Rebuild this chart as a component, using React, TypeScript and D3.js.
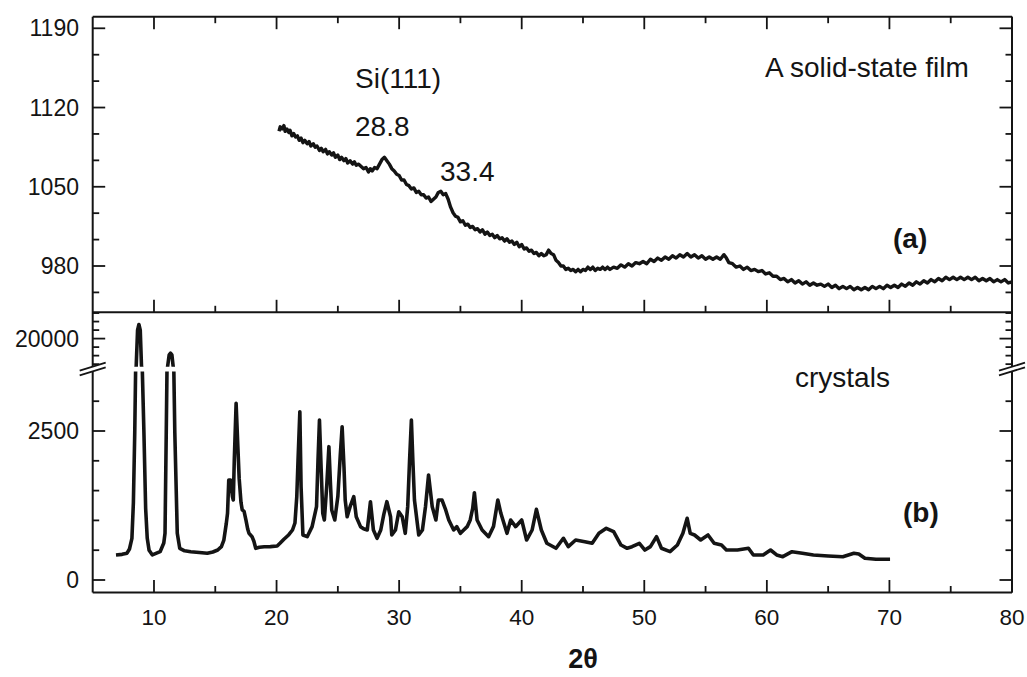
import React from "react";
import * as d3 from "d3";

// XRD pattern of the solid-state film (2θ, counts)
const filmPattern: [number, number][] = [
  [20.2, 1099], [20.3, 1103], [20.45, 1101], [20.6, 1104], [20.7, 1099], [20.85, 1101], [21.0, 1098],
  [21.1, 1100], [21.25, 1095], [21.4, 1097], [21.55, 1094], [21.7, 1095], [21.85, 1091],
  [22.0, 1093], [22.15, 1089], [22.3, 1091], [22.5, 1088], [22.65, 1090], [22.8, 1086],
  [23.0, 1088], [23.15, 1085], [23.3, 1086], [23.5, 1082], [23.65, 1084], [23.8, 1081],
  [24.0, 1083], [24.15, 1079], [24.3, 1081], [24.5, 1078], [24.65, 1080], [24.8, 1076],
  [25.0, 1078], [25.15, 1074], [25.3, 1076], [25.5, 1073], [25.65, 1075], [25.8, 1071],
  [26.0, 1073], [26.2, 1070], [26.35, 1072], [26.5, 1069], [26.7, 1070], [26.9, 1068],
  [27.1, 1066], [27.3, 1067], [27.5, 1063], [27.65, 1066], [27.8, 1064], [28.0, 1067],
  [28.2, 1066], [28.4, 1070], [28.6, 1074], [28.8, 1076], [29.0, 1073], [29.2, 1070],
  [29.4, 1066], [29.6, 1064], [29.8, 1061], [30.0, 1060], [30.2, 1056], [30.4, 1056],
  [30.6, 1052], [30.8, 1051], [31.0, 1048], [31.2, 1049], [31.4, 1045], [31.6, 1046],
  [31.8, 1043], [32.0, 1043], [32.2, 1040], [32.4, 1041], [32.6, 1037], [32.8, 1039],
  [33.0, 1041], [33.2, 1045], [33.4, 1046], [33.6, 1043], [33.8, 1044], [34.0, 1039],
  [34.2, 1032], [34.4, 1027], [34.6, 1024], [34.8, 1023], [35.0, 1019], [35.2, 1020],
  [35.4, 1016], [35.6, 1017], [35.8, 1014], [36.0, 1015], [36.2, 1012], [36.4, 1013],
  [36.6, 1010], [36.8, 1012], [37.0, 1008], [37.2, 1010], [37.4, 1007], [37.6, 1008],
  [37.8, 1005], [38.0, 1007], [38.2, 1004], [38.4, 1005], [38.6, 1002], [38.8, 1004],
  [39.0, 1001], [39.2, 1002], [39.4, 999], [39.6, 1001], [39.8, 997], [40.0, 999],
  [40.2, 995], [40.4, 996], [40.6, 993], [40.8, 994], [41.0, 991], [41.2, 992],
  [41.4, 989], [41.6, 991], [41.8, 989], [42.0, 990], [42.2, 994], [42.4, 991],
  [42.6, 990], [42.8, 985], [43.0, 983], [43.2, 980], [43.4, 980], [43.6, 977],
  [43.8, 978], [44.0, 976], [44.2, 977], [44.4, 975], [44.6, 977], [44.8, 975],
  [45.0, 977], [45.2, 976], [45.4, 979], [45.6, 977], [45.8, 979], [46.0, 976],
  [46.2, 978], [46.4, 977], [46.6, 979], [46.8, 977], [47.0, 979], [47.2, 977],
  [47.5, 979], [47.8, 978], [48.1, 981], [48.4, 979], [48.7, 982], [49.0, 980],
  [49.3, 983], [49.6, 982], [49.9, 984], [50.2, 982], [50.5, 986], [50.8, 984],
  [51.1, 987], [51.4, 985], [51.7, 988], [52.0, 986], [52.3, 989], [52.6, 987],
  [52.9, 990], [53.2, 988], [53.5, 991], [53.8, 988], [54.1, 990], [54.4, 987],
  [54.7, 989], [55.0, 986], [55.3, 988], [55.6, 986], [55.9, 988], [56.2, 986],
  [56.5, 990], [56.7, 987], [56.9, 983], [57.2, 982], [57.5, 979], [57.8, 980],
  [58.1, 977], [58.4, 979], [58.7, 976], [59.0, 977], [59.3, 975], [59.6, 976],
  [59.9, 973], [60.2, 974], [60.5, 971], [60.8, 971], [61.1, 968], [61.4, 969],
  [61.7, 966], [62.0, 968], [62.3, 965], [62.6, 967], [62.9, 964], [63.2, 966],
  [63.5, 963], [63.8, 965], [64.1, 963], [64.4, 964], [64.7, 962], [65.0, 964],
  [65.3, 961], [65.6, 963], [65.9, 960], [66.2, 962], [66.5, 960], [66.8, 962],
  [67.1, 959], [67.4, 961], [67.7, 959], [68.0, 961], [68.3, 959], [68.6, 962],
  [68.9, 960], [69.2, 962], [69.5, 960], [69.8, 963], [70.1, 961], [70.4, 963],
  [70.7, 961], [71.0, 964], [71.3, 962], [71.6, 965], [71.9, 963], [72.2, 966],
  [72.5, 964], [72.8, 967], [73.1, 965], [73.4, 968], [73.7, 966], [74.0, 969],
  [74.3, 967], [74.6, 970], [74.9, 968], [75.2, 970], [75.5, 968], [75.8, 970],
  [76.1, 968], [76.4, 970], [76.7, 968], [77.0, 970], [77.3, 967], [77.6, 969],
  [77.9, 967], [78.2, 969], [78.5, 966], [78.8, 968], [79.1, 966], [79.4, 968],
  [79.7, 965], [80.0, 966],
];

// XRD pattern of the crystals (2θ, counts)
const crystalPattern: [number, number][] = [
  [6.9, 420], [7.4, 430], [7.8, 450], [8.0, 520], [8.2, 700], [8.32, 1300], [8.43, 2466],
  [8.5, 3500], [8.55, 16800], [8.66, 21000], [8.77, 21650], [8.88, 21000], [8.98, 16800],
  [9.05, 3500], [9.18, 2466], [9.32, 1200], [9.45, 700], [9.6, 500], [9.87, 420],
  [10.5, 475], [10.8, 620], [10.9, 783], [11.0, 2466], [11.06, 3500], [11.12, 16800],
  [11.24, 18100], [11.35, 18300], [11.46, 18100], [11.56, 16800], [11.62, 3500],
  [11.7, 2466], [11.9, 783], [12.1, 532], [12.5, 490], [13.0, 475], [13.7, 460],
  [14.35, 448], [14.8, 470], [15.2, 503], [15.5, 560], [15.7, 671], [15.9, 950],
  [16.0, 1119], [16.1, 1678], [16.25, 1678], [16.4, 1400], [16.47, 1342], [16.55, 2000],
  [16.7, 2965], [16.85, 2200], [16.95, 1700], [17.1, 1300], [17.2, 1175], [17.35, 1150],
  [17.5, 1007], [17.65, 850], [17.75, 783], [18.0, 727], [18.15, 650], [18.3, 532],
  [18.6, 550], [19.0, 559], [19.5, 560], [20.05, 570], [20.3, 620], [20.6, 683],
  [21.0, 760], [21.3, 839], [21.5, 956], [21.65, 1400], [21.75, 2000], [21.9, 2824],
  [22.0, 1566], [22.15, 755], [22.5, 727], [22.9, 895], [23.26, 1230], [23.38, 2000],
  [23.5, 2685], [23.65, 1800], [23.77, 1119], [23.9, 1007], [24.1, 1600], [24.27, 2237],
  [24.4, 1600], [24.5, 1175], [24.75, 1007], [25.0, 1400], [25.2, 2100], [25.35, 2572],
  [25.5, 1900], [25.6, 1342], [25.76, 1062], [26.0, 1230], [26.3, 1398], [26.5, 1062],
  [26.85, 895], [27.1, 860], [27.4, 839], [27.66, 1314], [27.9, 839], [28.2, 700],
  [28.5, 839], [28.75, 1100], [29.0, 1314], [29.3, 1062], [29.4, 755], [29.7, 839],
  [29.97, 1146], [30.25, 1062], [30.5, 783], [30.7, 1230], [30.85, 2000], [31.0, 2685],
  [31.12, 2000], [31.25, 1342], [31.6, 755], [31.9, 839], [32.15, 1230], [32.4, 1762],
  [32.7, 1230], [33.0, 1007], [33.2, 1342], [33.5, 1342], [33.8, 1175], [34.05, 1007],
  [34.45, 839], [34.7, 895], [35.0, 783], [35.27, 839], [35.55, 895], [35.8, 1007],
  [36.0, 1200], [36.14, 1465], [36.36, 1007], [36.77, 839], [37.3, 727], [37.7, 900],
  [38.05, 1342], [38.3, 1119], [38.8, 783], [39.1, 1007], [39.5, 895], [40.0, 1007],
  [40.4, 671], [40.85, 839], [41.2, 1186], [41.6, 839], [42.05, 616], [42.8, 532],
  [43.4, 700], [43.8, 559], [44.4, 671], [45.15, 643], [45.75, 616], [46.3, 783],
  [46.9, 867], [47.5, 811], [48.1, 587], [48.6, 532], [49.0, 559], [49.6, 616],
  [50.05, 503], [50.5, 560], [51.0, 727], [51.4, 532], [52.1, 475], [52.7, 587],
  [53.15, 783], [53.5, 1035], [53.75, 783], [54.1, 755], [54.6, 671], [55.2, 755],
  [55.7, 616], [56.3, 587], [56.7, 503], [57.6, 503], [58.5, 532], [58.9, 420],
  [59.7, 420], [60.3, 503], [60.8, 420], [61.3, 391], [62.05, 475], [62.9, 448],
  [63.8, 420], [65.0, 403], [66.2, 391], [67.1, 448], [67.5, 436], [68.0, 364],
  [68.9, 347], [70.05, 347],
];

const thetaMajorTicks = [10, 20, 30, 40, 50, 60, 70, 80];
const thetaMinorTicks = [15, 25, 35, 45, 55, 65, 75];
const filmMajorTicks = [980, 1050, 1120, 1190];
const filmMinorTicks = [956.67, 1003.33, 1026.67, 1073.33, 1096.67, 1143.33, 1166.67];
const crystalMajorTicks = [0, 2500, 20000];
const crystalMinorTicks = [500, 1000, 1500, 2000, 3000, 17000, 18000, 19000, 21000, 22000, 23000];

const W = 1027;
const H = 677;
const L = 92.7;
const R = 1012;
const TOP = 16.7;
const MID = 312.3;
const BOT = 592.5;
const GAP_HI = 366.7; // bottom edge of the high-count segment
const GAP_LO = 371.4; // top edge of the low-count segment

const FONT = "'Liberation Sans', Arial, Helvetica, sans-serif";
const INK = "#141414";

const x = d3.scaleLinear().domain([5, 80]).range([L, R]);
const yFilm = d3.scaleLinear().domain([980, 1190]).range([266, 28.3]);
// broken axis: 0–3500 below the break, ~16700–23000 above it
const yCrystal = d3
  .scaleLinear()
  .domain([0, 3500, 16700, 20000])
  .range([580, GAP_LO, GAP_HI, 338.6]);

const filmLine = d3
  .line<[number, number]>()
  .x((d) => x(d[0]))
  .y((d) => yFilm(d[1]));
const crystalLine = d3
  .line<[number, number]>()
  .x((d) => x(d[0]))
  .y((d) => yCrystal(d[1]));

function BreakMark({ cx }: { cx: number }) {
  const s = -8 / 26;
  const ext = 13;
  const yA = (xx: number) => GAP_LO + s * (xx - cx);
  const yB = (xx: number) => GAP_HI + s * (xx - cx);
  const x0 = cx - ext;
  const x1 = cx + ext;
  const poly = [
    [cx - 4, yA(cx - 4)],
    [cx + 4, yA(cx + 4)],
    [cx + 4, yB(cx + 4)],
    [cx - 4, yB(cx - 4)],
  ]
    .map((p) => p.join(","))
    .join(" ");
  return (
    <g>
      <polygon points={poly} fill="#fff" />
      <line x1={x0} y1={yA(x0)} x2={x1} y2={yA(x1)} stroke={INK} strokeWidth={1.8} />
      <line x1={x0} y1={yB(x0)} x2={x1} y2={yB(x1)} stroke={INK} strokeWidth={1.8} />
    </g>
  );
}

export default function App() {
  const major = 12.5;
  const minor = 6.5;
  const tickStroke = 1.8;

  const yTicks = (
    vals: number[],
    scale: (v: number) => number,
    len: number,
    key: string
  ) =>
    vals.map((v) => (
      <g key={key + v}>
        <line x1={L} x2={L + len} y1={scale(v)} y2={scale(v)} stroke={INK} strokeWidth={tickStroke} />
        <line x1={R} x2={R - len} y1={scale(v)} y2={scale(v)} stroke={INK} strokeWidth={tickStroke} />
      </g>
    ));

  const xTicks = (vals: number[], len: number, key: string) =>
    vals.map((v) => (
      <g key={key + v}>
        <line x1={x(v)} x2={x(v)} y1={TOP} y2={TOP + len} stroke={INK} strokeWidth={tickStroke} />
        <line x1={x(v)} x2={x(v)} y1={MID} y2={MID - len} stroke={INK} strokeWidth={tickStroke} />
        <line x1={x(v)} x2={x(v)} y1={BOT} y2={BOT - len} stroke={INK} strokeWidth={tickStroke} />
      </g>
    ));

  return (
    <div style={{ position: "fixed", left: 0, top: 0 }}>
      <svg width={W} height={H} viewBox={`0 0 ${W} ${H}`} style={{ display: "block", background: "#fff" }}>
        <defs>
          <clipPath id="crystalClip">
            <rect x={L} y={MID} width={R - L} height={GAP_HI - MID} />
            <rect x={L} y={GAP_LO} width={R - L} height={BOT - GAP_LO} />
          </clipPath>
          <clipPath id="filmClip">
            <rect x={L} y={TOP} width={R - L} height={MID - TOP} />
          </clipPath>
        </defs>

        {/* data */}
        <path
          d={filmLine(filmPattern) || ""}
          fill="none"
          stroke={INK}
          strokeWidth={3.4}
          strokeLinejoin="round"
          clipPath="url(#filmClip)"
        />
        <path
          d={crystalLine(crystalPattern) || ""}
          fill="none"
          stroke={INK}
          strokeWidth={3.6}
          strokeLinejoin="round"
          clipPath="url(#crystalClip)"
        />

        {/* frames */}
        <g stroke={INK} strokeWidth={2} fill="none">
          <line x1={L} x2={L} y1={TOP} y2={BOT} />
          <line x1={R} x2={R} y1={TOP} y2={BOT} />
          <line x1={L} x2={R} y1={TOP} y2={TOP} />
          <line x1={L} x2={R} y1={MID} y2={MID} />
          <line x1={L} x2={R} y1={BOT} y2={BOT} />
        </g>

        {xTicks(thetaMajorTicks, major, "xM")}
        {xTicks(thetaMinorTicks, minor, "xm")}
        {yTicks(filmMajorTicks, yFilm, major, "fM")}
        {yTicks(filmMinorTicks, yFilm, minor, "fm")}
        {yTicks(crystalMajorTicks, yCrystal, major, "cM")}
        {yTicks(crystalMinorTicks, yCrystal, minor, "cm")}

        <BreakMark cx={L} />
        <BreakMark cx={R} />

        {/* tick labels */}
        <g fontFamily={FONT} fontSize={23} fill={INK} textAnchor="end">
          {filmMajorTicks.map((v) => (
            <text key={"fl" + v} x={79} y={yFilm(v) + 8}>
              {v}
            </text>
          ))}
          {crystalMajorTicks.map((v) => (
            <text key={"cl" + v} x={79} y={yCrystal(v) + 8}>
              {v}
            </text>
          ))}
        </g>
        <g fontFamily={FONT} fontSize={22.5} fill={INK} textAnchor="middle">
          {thetaMajorTicks.map((v) => (
            <text key={"xl" + v} x={x(v)} y={625}>
              {v}
            </text>
          ))}
        </g>

        <text x={583} y={668} fontFamily={FONT} fontSize={27} fontWeight="bold" fill={INK} textAnchor="middle">
          2θ
        </text>

        {/* annotations */}
        <g fontFamily={FONT} fontSize={28} fill={INK}>
          <text x={355} y={88}>Si(111)</text>
          <text x={355} y={136}>28.8</text>
          <text x={440} y={181}>33.4</text>
          <text x={765} y={77}>A solid-state film</text>
          <text x={795} y={387}>crystals</text>
          <text x={893} y={248} fontWeight="bold">(a)</text>
          <text x={903} y={522} fontWeight="bold">(b)</text>
        </g>
      </svg>
    </div>
  );
}
